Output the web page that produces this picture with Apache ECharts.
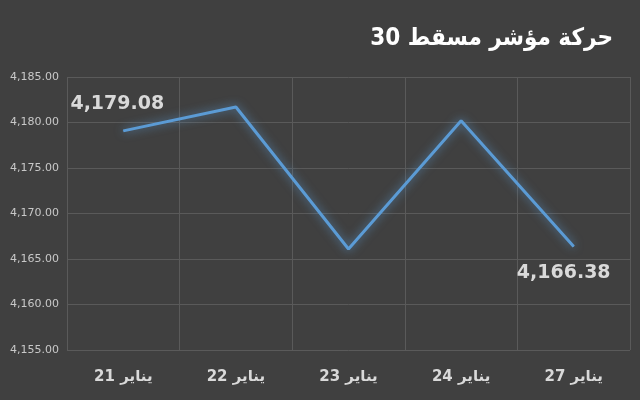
<!DOCTYPE html>
<html lang="ar">
<head>
<meta charset="UTF-8">
<script src="https://cdn.jsdelivr.net/npm/echarts@6/dist/echarts.min.js"></script>
<title>مسقط 30</title>
<style>html,body{margin:0;background:#404040}</style>
</head>
<body>
<div id="main" style="width:640px;height:400px"></div>
<script>
var days = ['يناير 21', 'يناير 22', 'يناير 23', 'يناير 24', 'يناير 27'];
var values = [4179.08, 4181.7, 4166.1, 4180.2, 4166.38];

var fmt = function (v) {
    return v.toLocaleString('en-US', {minimumFractionDigits: 2, maximumFractionDigits: 2});
};

var points = values.map(function (v, i) {
    var p = {value: v};
    if (i === 0) p.label = {show: true, position: 'top', offset: [-6, -12]};
    if (i === values.length - 1) p.label = {show: true, position: 'bottom', offset: [-10, 12]};
    return p;
});

var chart = echarts.init(document.getElementById('main'));
chart.setOption({
    backgroundColor: '#404040',
    textStyle: {fontFamily: 'DejaVu Sans'},
    title: {
        text: 'حركة مؤشر مسقط 30',
        right: 22, top: 22,
        textStyle: {color: '#ffffff', fontSize: 24, fontWeight: 'bold', fontFamily: "'Liberation Sans Narrow', 'DejaVu Sans Condensed', 'DejaVu Sans'"}
    },
    grid: {left: 67, right: 10, top: 77, bottom: 50},
    xAxis: {
        type: 'category',
        data: days,
        boundaryGap: true,
        axisLine: {show: false},
        axisTick: {show: false},
        splitLine: {show: true, lineStyle: {color: '#5a5a5a'}},
        axisLabel: {color: '#d9d9d9', fontSize: 15, fontWeight: 'bold', margin: 20}
    },
    yAxis: {
        type: 'value',
        min: 4155, max: 4185, interval: 5,
        axisLine: {show: false},
        axisTick: {show: false},
        splitLine: {lineStyle: {color: '#5a5a5a'}},
        axisLabel: {color: '#c8c8c8', fontSize: 11, formatter: fmt}
    },
    series: [{
        type: 'line',
        data: points,
        symbol: 'circle',
        symbolSize: 1,
        showSymbol: true,
        itemStyle: {color: '#5b9bd5'},
        lineStyle: {color: '#5b9bd5', width: 3, shadowColor: 'rgba(91,155,213,0.8)', shadowBlur: 10},
        label: {color: '#d9d9d9', fontSize: 19, fontWeight: 'bold', formatter: function (p) { return fmt(p.value); }}
    }]
});
</script>
</body>
</html>
